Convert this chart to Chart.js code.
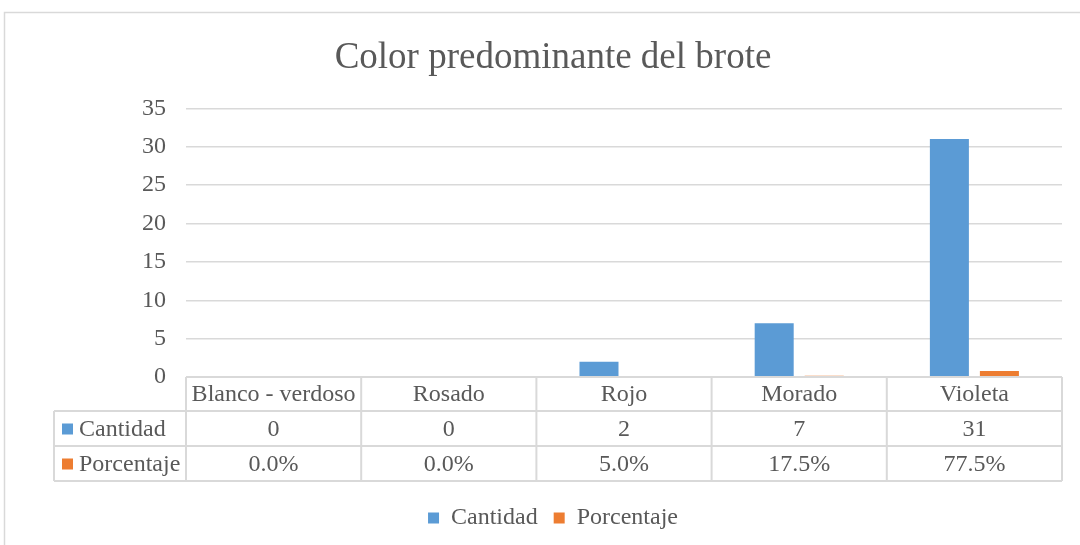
<!DOCTYPE html>
<html>
<head>
<meta charset="utf-8">
<script src="https://cdn.jsdelivr.net/npm/chart.js@4"></script>
<style>
  body { margin: 0; background: #fff; }
  #wrap { width: 1080px; height: 545px; position: relative; }
</style>
</head>
<body>
<div id="wrap"><canvas id="bar-chart"></canvas></div>
<script>
var categories = ["Blanco - verdoso", "Rosado", "Rojo", "Morado", "Violeta"];
var cantidad = [0, 0, 2, 7, 31];
var porcentaje = [0, 0, 0.05, 0.175, 0.775];
var porcentajeText = ["0.0%", "0.0%", "5.0%", "17.5%", "77.5%"];
var yTicks = [0, 5, 10, 15, 20, 25, 30, 35];

var FONT = "'Liberation Serif', 'Times New Roman', serif";
var GREY = "#595959";
var LINE = "#d9d9d9";
var BLUE = "#5B9BD5";
var ORANGE = "#ED7D31";

// data table under the axis + outer frame
var dataTable = {
  id: 'dataTable',
  afterDraw: function(chart) {
    var ctx = chart.ctx;
    var x = chart.scales.x;
    var area = chart.chartArea;
    var n = categories.length;
    var cw = (area.right - area.left) / n;
    var top = area.bottom;
    var r1 = top + 34, r2 = top + 69, r3 = top + 104;
    var leftCol = 54;

    ctx.save();
    // outer frame
    ctx.strokeStyle = LINE;
    ctx.lineWidth = 1.5;
    ctx.beginPath();
    ctx.moveTo(4.5, 600); ctx.lineTo(4.5, 12.5); ctx.lineTo(1200, 12.5);
    ctx.stroke();

    // table lines
    ctx.lineWidth = 2;
    ctx.beginPath();
    ctx.moveTo(area.left, top); ctx.lineTo(area.right, top);
    [r1, r2, r3].forEach(function(y) {
      ctx.moveTo(leftCol, y); ctx.lineTo(area.right, y);
    });
    for (var i = 0; i <= n; i++) {
      var bx = area.left + i * cw;
      ctx.moveTo(bx, top); ctx.lineTo(bx, r3);
    }
    ctx.moveTo(leftCol, r1); ctx.lineTo(leftCol, r3);
    ctx.stroke();

    // text
    ctx.fillStyle = GREY;
    ctx.font = "24px " + FONT;
    ctx.textAlign = "center";
    ctx.textBaseline = "middle";
    for (var j = 0; j < n; j++) {
      var cx = x.getPixelForValue(j);
      ctx.fillText(categories[j], cx, (top + r1) / 2 + 1);
      ctx.fillText(String(cantidad[j]), cx, (r1 + r2) / 2 + 1);
      ctx.fillText(porcentajeText[j], cx, (r2 + r3) / 2 + 1);
    }
    // row headers with keys
    ctx.textAlign = "left";
    ctx.fillStyle = BLUE;
    ctx.fillRect(62, (r1 + r2) / 2 - 5, 11, 11);
    ctx.fillStyle = ORANGE;
    ctx.fillRect(62, (r2 + r3) / 2 - 5, 11, 11);
    ctx.fillStyle = GREY;
    ctx.fillText("Cantidad", 79, (r1 + r2) / 2 + 1);
    ctx.fillText("Porcentaje", 79, (r2 + r3) / 2 + 1);
    ctx.restore();
  }
};

var chart = new Chart(document.getElementById("bar-chart"), {
  type: 'bar',
  data: {
    labels: categories,
    datasets: [{
        label: "Cantidad",
        backgroundColor: BLUE,
        data: cantidad,
        categoryPercentage: 0.571,
        barPercentage: 0.78
      }, {
        label: "Porcentaje",
        backgroundColor: ORANGE,
        data: porcentaje,
        categoryPercentage: 0.571,
        barPercentage: 0.78
      }
    ]
  },
  options: {
    responsive: true,
    maintainAspectRatio: false,
    animation: false,
    layout: { padding: { left: 44, right: 18, top: 0, bottom: 5 } },
    plugins: {
      title: {
        display: true,
        text: 'Color predominante del brote',
        color: GREY,
        font: { family: FONT, size: 37, weight: 'normal' },
        padding: { top: 36, bottom: 28 }
      },
      legend: {
        position: 'bottom',
        labels: {
          color: GREY,
          font: { family: FONT, size: 24 },
          boxWidth: 11,
          boxHeight: 11,
          padding: 16
        }
      },
      tooltip: { enabled: false }
    },
    scales: {
      x: {
        grid: { display: false },
        border: { display: false },
        ticks: { display: false },
        afterFit: function(scale) { scale.height = 113; }
      },
      y: {
        min: 0,
        max: 35,
        afterBuildTicks: function(scale) {
          scale.ticks = yTicks.map(function(v) { return { value: v }; });
        },
        grid: { color: LINE, lineWidth: 1.5, drawTicks: false },
        border: { display: false },
        ticks: {
          color: GREY,
          padding: 20,
          font: { family: FONT, size: 24 }
        },
        afterFit: function(scale) { scale.width = 142; }
      }
    }
  },
  plugins: [dataTable]
});
</script>
</body>
</html>
